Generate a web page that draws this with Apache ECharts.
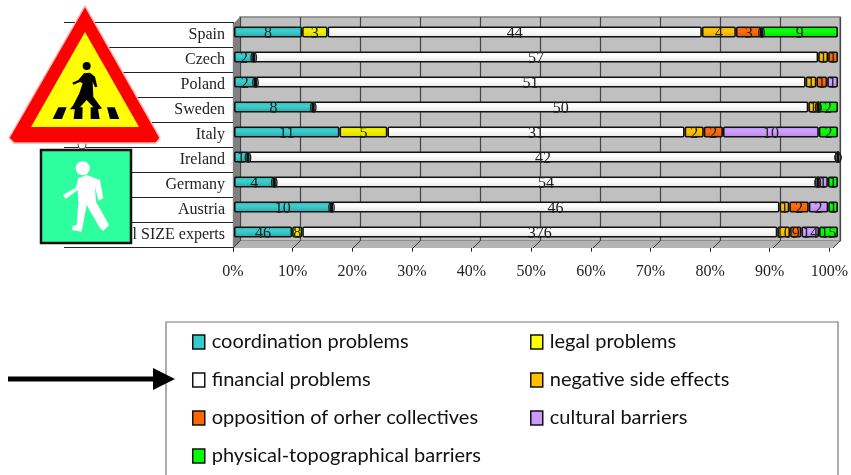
<!DOCTYPE html>
<html><head><meta charset="utf-8">
<style>html,body{margin:0;padding:0;background:#fff}#c{width:851px;height:475px}</style>
<script src="https://cdn.jsdelivr.net/npm/echarts@6/dist/echarts.min.js"></script>
</head><body><div id="c"></div>
<script>
const categories = ['Spain','Czech','Poland','Sweden','Italy','Ireland','Germany','Austria','All SIZE experts'];
const coordination = [8,2,2,8,11,1,4,10,46];
const legal        = [3,0,0,0,5,0,0,0,8];
const financial    = [44,57,51,50,31,42,54,46,376];
const negative     = [4,1,1,1,2,0,0,1,10];
const opposition   = [3,1,1,0,2,0,0,2,9];
const cultural     = [0,0,1,0,10,0,1,2,14];
const physical     = [9,0,0,2,2,0,1,1,15];
const tickValues = [0,10,20,30,40,50,60,70,80,90,100];

const seriesDefs = [
  ['coordination problems', coordination, '#33CCCC', ['#2fb4b4','#3fd0d0','#25a5a5']],
  ['legal problems', legal, '#FFFF00', ['#e6e600','#f2f200','#d8d800']],
  ['financial problems', financial, '#FFFFFF', ['#f2f2f2','#ffffff','#e4e4e4']],
  ['negative side effects', negative, '#FFC000', ['#eeb400','#ffc800','#dca500']],
  ['opposition of orher collectives', opposition, '#FF6600', ['#f06000','#ff6e10','#dd5800']],
  ['cultural barriers', cultural, '#CC99FF', ['#bf90ee','#d0a2ff','#b286e0']],
  ['physical-topographical barriers', physical, '#00FF00', ['#00ee00','#10ff10','#00d800']]
];
const totals = categories.map((_, i) => seriesDefs.reduce((s, d) => s + d[1][i], 0));
const grad = c => ({type:'linear',x:0,y:0,x2:0,y2:1,colorStops:[{offset:0,color:c[0]},{offset:.4,color:c[1]},{offset:1,color:c[2]}]});

const serif = '"Liberation Serif","Times New Roman",serif';
const narrow = 'Lato,Roboto,"Liberation Sans",sans-serif';

const series = seriesDefs.map(d => ({
  name:d[0], type:'bar', stack:'s', xAxisIndex:1, yAxisIndex:1, barWidth:11,
  itemStyle:{color:grad(d[3]), borderColor:'#111', borderWidth:1.6, borderRadius:1},
  label:{show:true, position:'inside', offset:[0,2], color:'#222', fontFamily:serif, fontSize:16,
         formatter:p => p.data.raw},
  data:d[1].map((v,i)=>({value:v/totals[i]*100, raw:v})),
  emphasis:{disabled:true}, animation:false
}));
const legendItems = names => names.map(n => {
  const d = seriesDefs.find(x => x[0]===n);
  return {name:n, icon:'rect', itemStyle:{color:d[2], borderColor:'#111', borderWidth:1.5}};
});
const legendBase = {orient:'vertical', itemWidth:12, itemHeight:14, itemGap:14, selectedMode:false,
  textStyle:{fontFamily:narrow, fontSize:20, lineHeight:24, color:'#111', padding:[0,0,0,2]}, padding:0};

const gfx = [];
const poly = (points, fill, z, extra) => gfx.push(Object.assign({type:'polygon', shape:{points}, style:{fill}, z, silent:true}, extra||{}));
poly([[233,24],[240,17],[240,241],[233,248]], '#808080', 1);
poly([[233,248],[240,241],[840,241],[833,248]], '#b4b4b4', 1);
tickValues.forEach(t => {
  const x = 233 + t*6;
  gfx.push({type:'line', shape:{x1:x,y1:248,x2:x+7,y2:241}, style:{stroke:'#333',lineWidth:1}, z:2, silent:true});
});
gfx.push({type:'polyline', shape:{points:[[166,475],[166,322],[838,322],[838,475]]}, style:{stroke:'#777',lineWidth:1.2,fill:null}, z:1, silent:true});
poly([[8,376.5],[153,376.5],[153,368],[175,379],[153,390],[153,381.5],[8,381.5]], '#000', 5);
poly([[85,6],[160,138],[156,143],[14,143],[9,138]], '#ff0000', 100, {style:{fill:'#ff0000',stroke:'#ffb0b0',lineWidth:1.5,lineJoin:'round'}});
gfx.push({type:'circle', shape:{cx:82,cy:145,r:4}, style:{fill:'#fff',stroke:'#555',lineWidth:1}, z:99, silent:true});
poly([[85,32],[139,127],[31,127]], '#ffff00', 101);
const mapB = p => [40+p[0]/3, 50+p[1]/3];
gfx.push({type:'circle', shape:{cx:86.7,cy:66,r:4}, style:{fill:'#000'}, z:102, silent:true});
poly([[132,70],[150,68],[165,80],[172,110],[165,112],[158,95],[160,140],[180,168],[186,175],[168,180],[140,150],[120,172],[112,178],[90,178],[100,165],[118,130],[128,100],[120,96],[100,104],[97,98],[115,90]].map(mapB), '#000', 102);
[[[55,172],[80,172],[66,207],[38,207]],[[105,172],[128,172],[127,207],[101,207]],[[152,172],[173,172],[179,207],[152,207]],[[201,172],[224,172],[238,207],[210,207]]]
  .forEach(s => poly(s.map(mapB), '#000', 102));
gfx.push({type:'rect', shape:{x:41,y:150,width:90,height:93}, style:{fill:'#2dff9f',stroke:'#111',lineWidth:2.5}, z:103, silent:true});
const mapG = p => [35+p[0]/3, 145+p[1]/3];
gfx.push({type:'circle', shape:{cx:82.7,cy:168.3,r:7}, style:{fill:'#fff'}, z:104, silent:true});
poly([[130,100],[155,90],[195,105],[205,160],[190,167],[180,125],[183,170],[222,240],[205,258],[195,250],[155,180],[140,260],[110,255],[113,242],[125,240],[130,170],[128,135],[92,162],[84,150],[122,128]].map(mapG), '#fff', 104);

const chart = echarts.init(document.getElementById('c'), null, {renderer:'canvas'});
chart.setOption({
  animation:false, backgroundColor:'#fff',
  grid:[
    {left:240, top:17, width:600, height:224, show:true, backgroundColor:'#c0c0c0', borderColor:'#808080', borderWidth:1.5},
    {left:234, top:19.5, width:604, height:225},
    {left:233, top:22.7, width:600, height:225}
  ],
  xAxis:[
    {gridIndex:0, type:'value', min:0, max:100, interval:10, axisLine:{show:false}, axisTick:{show:false}, axisLabel:{show:false},
     splitLine:{show:true, lineStyle:{color:'#444', width:1.2}}},
    {gridIndex:1, type:'value', min:0, max:100, show:false},
    {gridIndex:2, type:'value', min:0, max:100, interval:10, position:'bottom',
     axisLine:{show:true, lineStyle:{color:'#444', width:1.2}},
     axisTick:{show:true, length:4, lineStyle:{color:'#222'}},
     axisLabel:{margin:16, color:'#222', fontFamily:serif, fontSize:16, formatter:'{value}%', hideOverlap:false},
     splitLine:{show:false}}
  ],
  yAxis:[
    {gridIndex:0, type:'category', data:categories, inverse:true, show:false},
    {gridIndex:1, type:'category', data:categories, inverse:true, show:false},
    {gridIndex:2, type:'category', data:categories, inverse:true,
     axisLine:{show:true, lineStyle:{color:'#222', width:1.2}},
     axisTick:{show:true, length:169, lineStyle:{color:'#222', width:1}},
     axisLabel:{interval:0, margin:8, color:'#222', fontFamily:serif, fontSize:16, padding:[6,0,0,0]},
     splitLine:{show:false}}
  ],
  legend:[
    Object.assign({}, legendBase, {left:192, top:330, data:legendItems(['coordination problems','financial problems','opposition of orher collectives','physical-topographical barriers'])}),
    Object.assign({}, legendBase, {left:530, top:330, data:legendItems(['legal problems','negative side effects','cultural barriers'])})
  ],
  series,
  graphic:{elements:gfx}
});
</script></body></html>
